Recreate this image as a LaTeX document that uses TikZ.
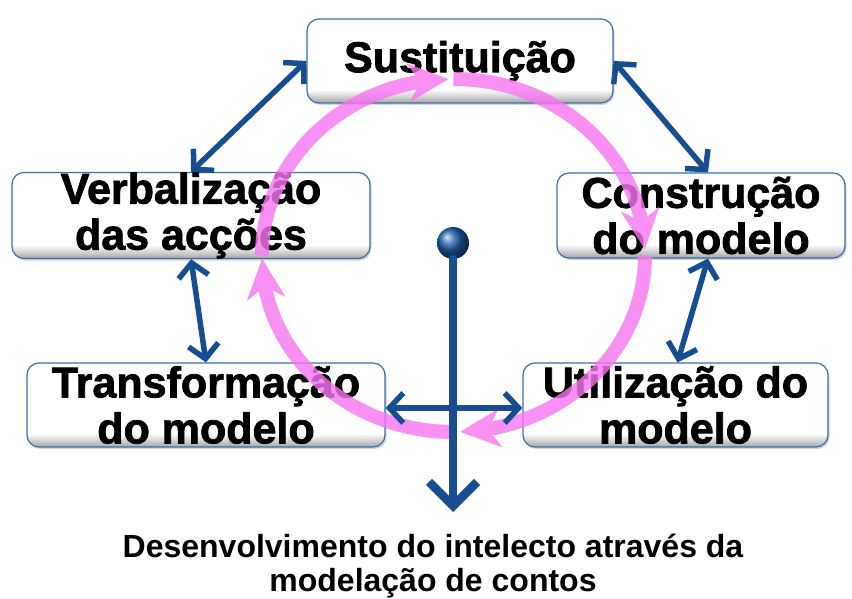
\documentclass[tikz,border=0pt]{standalone}
\usepackage{fontspec}
\setmainfont{Liberation Sans}
\newfontfamily\heavyfont{Liberation Sans}[BoldFeatures={FakeBold=1.8}]
\usetikzlibrary{arrows.meta,bending,shadows}
\definecolor{linkblue}{RGB}{22,78,145}
\definecolor{knobblue}{RGB}{30,95,175}
\definecolor{boxline}{RGB}{60,110,170}
\definecolor{ringpink}{RGB}{248,118,242}
\pgfdeclareverticalshading{boxshade}{100bp}{color(0bp)=(black!35); color(25bp)=(black!35); color(33bp)=(white); color(100bp)=(white)}
\tikzset{
  stage/.style={draw=boxline,line width=1.2pt,rounded corners=12pt,shading=boxshade,
    drop shadow={opacity=0.35,shadow xshift=1.5pt,shadow yshift=-2pt},
    align=center,inner sep=0pt,font=\fontsize{43}{46}\selectfont\heavyfont\bfseries},
  link/.style={color=linkblue,line width=5.5pt,line cap=round,line join=round,
    {Straight Barb[length=14pt,width=30pt]}-{Straight Barb[length=14pt,width=30pt]}},
  ring/.style={color=ringpink,line width=14pt,-{Stealth[length=40pt,width=38pt,inset=12pt]}}
}
\begin{document}
\begin{tikzpicture}[x=1pt,y=-1pt]
  \useasboundingbox (0,0) rectangle (852,599);

  \node[stage,minimum width=306pt,minimum height=84pt] (sust) at (460,61) {Sustituição};
  \node[stage,minimum width=358pt,minimum height=85pt] (verb) at (191,215.5) {Verbalização\\das acções};
  \node[stage,minimum width=288pt,minimum height=85pt] (constr) at (701,215.5) {Construção\\do modelo};
  \node[stage,minimum width=358pt,minimum height=84pt] (trans) at (206,405) {Transformação\\do modelo};
  \node[stage,minimum width=305pt,minimum height=84pt] (util) at (675.5,405) {Utilização do\\modelo};

  \begin{scope}[transparency group,opacity=0.8]
    \draw[ring] ([shift={(453.5,255.5)}]90:191.5pt and 176.5pt) arc[start angle=90,end angle=2,x radius=191.5pt,y radius=176.5pt];
    \draw[ring] ([shift={(453.5,255.5)}]0:191.5pt and 176.5pt) arc[start angle=0,end angle=-88,x radius=191.5pt,y radius=176.5pt];
    \draw[ring] ([shift={(453.5,255.5)}]-90:191.5pt and 176.5pt) arc[start angle=-90,end angle=-179,x radius=191.5pt,y radius=176.5pt];
    \draw[ring] ([shift={(453.5,255.5)}]-180:191.5pt and 176.5pt) arc[start angle=-180,end angle=-268.5,x radius=191.5pt,y radius=176.5pt];
  \end{scope}

  \draw[link] (sust.west) -- (verb.north);
  \draw[link] (sust.east) -- ([xshift=7pt]constr.north);
  \draw[link] (verb.south) -- (trans.north);
  \draw[link] ([xshift=7pt]constr.south) -- ([xshift=2pt]util.north);
  \draw[link] ([yshift=-3pt]trans.east) -- ([yshift=-3pt]util.west);

  \node[circle,minimum size=32pt,inner sep=0pt,shading=ball,ball color=knobblue] (knob) at (453,243) {};
  \coordinate (stem) at (453,512);
  \draw[color=linkblue,line width=8.5pt,line cap=round,line join=round,-{Straight Barb[length=24pt,width=48pt]}] (knob.south) -- (stem);

  \node[align=center,font=\fontsize{32}{34}\selectfont\bfseries] (caption) at (433,566)
    {Desenvolvimento do intelecto através da\\modelação de contos};
\end{tikzpicture}
\end{document}
